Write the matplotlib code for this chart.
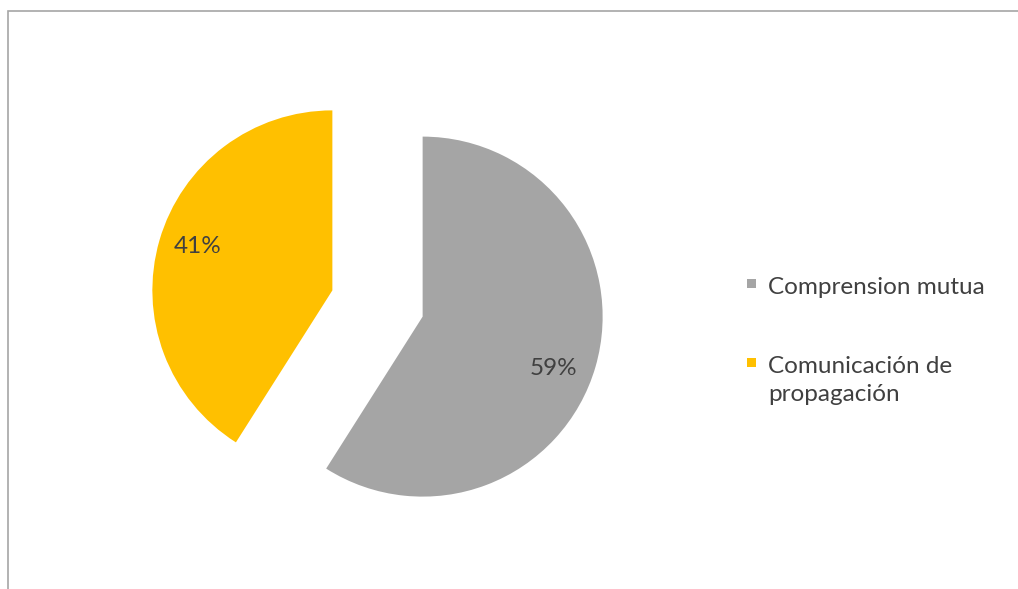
import matplotlib
matplotlib.use("Agg")
import matplotlib.pyplot as plt
from matplotlib.patches import Rectangle

# Data
categories = ["Comprension mutua", "Comunicación de\npropagación"]
shares = [59, 41]
colors = ["#A5A5A5", "#FFC000"]

plt.rcParams['font.family'] = ['Lato', 'DejaVu Sans']
TEXT = '#404040'

W, H = 1018, 589
fig = plt.figure(figsize=(W / 100, H / 100), dpi=100)
ax = fig.add_axes([0, 0, 1, 1])

# pie drawn in pixel-like data units
R = 180
wedges, texts, autotexts = ax.pie(
    shares, colors=colors, startangle=90, counterclock=False,
    radius=R, center=(377.5, H - 303.5), explode=[47, 47],
    autopct='%1.0f%%', pctdistance=0.77,
    textprops=dict(fontsize=17.5, color=TEXT),
    wedgeprops=dict(linewidth=0))

# small nudges of the percentage labels
for t, dy in zip(autotexts, [-13, 5]):
    x, y = t.get_position()
    t.set_position((x - 2, y + dy))

ax.set_xlim(0, W)
ax.set_ylim(0, H)
ax.set_aspect('equal')
ax.axis('off')

# chart border
ax.add_patch(Rectangle((8, -10), W + 20, H - 11 + 10, fill=False,
                       edgecolor='#A6A6A6', linewidth=1.2))

# legend: square marker next to first line of each label
leg_x, leg_y, leg_step = 747, H - 283, 79
for i, (cat, col) in enumerate(zip(categories, colors)):
    yc = leg_y - i * leg_step
    ax.add_patch(Rectangle((leg_x, yc - 4.5), 9, 9, facecolor=col, linewidth=0))
    ax.text(leg_x + 21, yc + 6, cat, fontsize=17.5, color=TEXT,
            ha='left', va='top', linespacing=1.4)

fig.savefig("out.png", dpi=100)
